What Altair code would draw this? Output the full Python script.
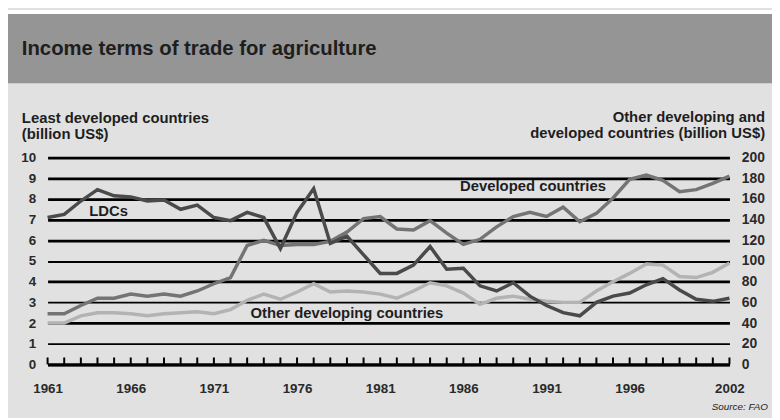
import altair as alt
import pandas as pd

years = list(range(1961, 2003))
ldc = [7.1, 7.25, 7.9, 8.45, 8.15, 8.1, 7.9, 7.95, 7.5, 7.7,
       7.1, 6.95, 7.35, 7.1, 5.6, 7.35, 8.5, 5.85, 6.2, 5.3,
       4.4, 4.4, 4.8, 5.7, 4.6, 4.65, 3.8, 3.55, 3.95, 3.3,
       2.85, 2.5, 2.35, 3.0, 3.3, 3.45, 3.85, 4.15, 3.6, 3.15,
       3.05, 3.2]
developed = [49, 49, 57, 64, 64, 68, 66, 68, 66, 71,
             78, 84, 115, 120, 115, 116, 116, 119, 128, 141,
             143, 131, 130, 139, 127, 116, 121, 133, 143, 147,
             143, 152, 138, 146, 161, 179, 183, 178, 167, 169,
             175, 182]
other = [40, 40, 47, 50, 50, 49, 47, 49, 50, 51,
         49, 53, 62, 68, 63, 70, 78, 70, 71, 70,
         68, 64, 71, 79, 76, 69, 58, 64, 66, 63,
         61, 60, 60, 71, 80, 88, 97, 96, 85, 84,
         89, 98]
year_labels = [1961, 1966, 1971, 1976, 1981, 1986, 1991, 1996, 2002]
left_ticks = list(range(0, 11))
right_ticks = list(range(0, 201, 20))

ann_text = ["LDCs", "Developed countries", "Other developing countries"]
ann_year = [1963.5, 1985.8, 1973.2]
ann_val = [7.16, 8.37, 2.23]

df = pd.DataFrame({"year": years, "ldc": ldc, "developed": developed, "other": other})
ann = pd.DataFrame({"text": ann_text, "year": ann_year, "ldc": ann_val})
ticks_df = pd.DataFrame({"year": years})

FONT = "Liberation Sans"
TXT = "#1e1e1e"
W, H = 689, 209

xaxis = alt.Axis(values=year_labels, format="d", domain=True, domainColor="black",
                 domainWidth=3, ticks=False, grid=False, labelPadding=17,
                 labelFontSize=13.5, labelFontWeight="bold", labelFont=FONT,
                 labelColor="#2a2a2a", labelFlush=False, title=None)
xscale = alt.Scale(domain=[1961, 2002], nice=False, zero=False)

def X(field="year"):
    return alt.X(f"{field}:Q", scale=xscale, axis=xaxis)

lscale = alt.Scale(domain=[0, 10], nice=False)
rscale = alt.Scale(domain=[0, 200], nice=False)
laxis = alt.Axis(orient="left", values=left_ticks, grid=True, gridColor="black",
                 gridWidth={"condition": {"test": "datum.value == 1 || datum.value == 3 || datum.value == 5",
                                          "value": 1.8}, "value": 2.8},
                 gridOpacity=1, domain=False, ticks=False, labelPadding=12,
                 labelFontSize=13.5, labelFontWeight="bold", labelFont=FONT,
                 labelColor="#2a2a2a", title=None)
raxis = alt.Axis(orient="right", values=right_ticks, grid=False, domain=False,
                 ticks=False, labelPadding=12, labelFontSize=14, labelFontWeight="bold",
                 labelFont=FONT, labelColor="#2a2a2a", title=None)

base = alt.Chart(df)

ldc_line = base.mark_line(color="#4a4a4a", strokeWidth=3.5).encode(
    x=X(), y=alt.Y("ldc:Q", scale=lscale, axis=laxis))
ann_layer = alt.Chart(ann).mark_text(align="left", baseline="alphabetic", font=FONT,
                                     fontSize=15, fontWeight="bold", color=TXT).encode(
    x=X(), y=alt.Y("ldc:Q", scale=lscale, axis=laxis), text="text:N")
tick_layer = alt.Chart(ticks_df).mark_rule(color="black", strokeWidth=2).encode(
    x=X(), y=alt.value(H - 7), y2=alt.value(H))

left_group = alt.layer(ldc_line, ann_layer)

other_line = base.mark_line(color="#b3b3b3", strokeWidth=3.5).encode(
    x=X(), y=alt.Y("other:Q", scale=rscale, axis=raxis))
dev_line = base.mark_line(color="#747474", strokeWidth=3.5).encode(
    x=X(), y=alt.Y("developed:Q", scale=rscale, axis=raxis))
right_group = alt.layer(other_line, dev_line)

one = alt.Chart(pd.DataFrame({"a": [0]}))
white_strip = one.mark_rect(color="white").encode(
    x=alt.value(-40), x2=alt.value(732), y=alt.value(-149), y2=alt.value(-145))
band = one.mark_rect(color="#959595").encode(
    x=alt.value(-40), x2=alt.value(732), y=alt.value(-145), y2=alt.value(-75))

def label(text, x, y, align="left", size=15, weight="bold", style="normal"):
    return one.mark_text(align=align, baseline="alphabetic", font=FONT, fontSize=size,
                         fontWeight=weight, fontStyle=style, color=TXT).encode(
        x=alt.value(x), y=alt.value(y), text=alt.value(text))

texts = [
    label("Income terms of trade for agriculture", -26, -104, size=20.5),
    label("Least developed countries", -26, -35),
    label("(billion US$)", -26, -19),
    label("Other developing and", 725, -36, align="right"),
    label("developed countries (billion US$)", 725, -20, align="right"),
    label("Source: FAO", 728, 255, align="right", size=10, weight="normal", style="italic"),
]

chart = alt.layer(white_strip, band, *texts, tick_layer, right_group, left_group).resolve_scale(
    y="independent"
).properties(
    width=W, height=H,
    autosize=alt.AutoSizeParams(type="none"),
    padding={"left": 40, "top": 149, "right": 43, "bottom": 52},
).configure(background="#e1e1e1").configure_view(strokeWidth=0)

chart.save("out.html", embed_options={"renderer": "svg", "actions": False})
